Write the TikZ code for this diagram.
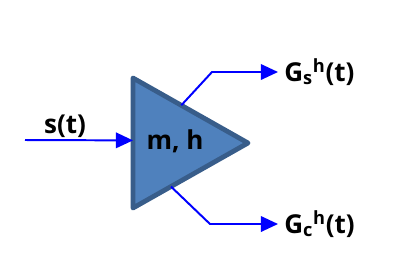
\documentclass[tikz,border=0pt]{standalone}
\usepackage{fontspec}
\setmainfont{Open Sans}
\usetikzlibrary{arrows.meta,calc}
\definecolor{ampfill}{RGB}{79,129,189}
\definecolor{ampdraw}{RGB}{56,93,138}

\begin{document}
\begin{tikzpicture}[
  x=0.025cm, y=-0.025cm,
  font=\bfseries\fontsize{18.5}{22}\selectfont,
  amp/.style={fill=ampfill, draw=ampdraw, line width=1.2mm, line join=round},
  sig/.style={inner xsep=1.5mm, inner ysep=0pt, text=black},
  arrow/.style={-{Triangle[length=4.3mm,width=3.9mm]}, blue, line width=1.4pt}
]
\useasboundingbox (0,0) rectangle (400,279);

% amplifier
\coordinate (tl) at (133,78);
\coordinate (bl) at (133,208);
\coordinate (tip) at (248,143);
\draw[amp] (tl) -- (tip) -- (bl) -- cycle;
\node (gain) at (175,141) {m, h};

\coordinate (in) at (25,140);
\coordinate (inedge) at ($(tl)!0.48!(bl)$);
\coordinate (upedge) at ($(tl)!0.42!(tip)$);
\coordinate (loedge) at ($(bl)!0.33!(tip)$);
\coordinate (upbend) at (212,72);
\coordinate (lobend) at (210,224);

\node[sig] (st) at (65,126) {s(t)};
\node[sig, anchor=west] (gs) at (278,72) {G\textsubscript{s}\textsuperscript{h}(t)};
\node[sig, anchor=west] (gc) at (278,224) {G\textsubscript{c}\textsuperscript{h}(t)};

\draw[arrow] (in) -- (inedge);
\draw[arrow] (upedge) -- (upbend) -- (gs.west);
\draw[arrow] (loedge) -- (lobend) -- (gc.west);

\end{tikzpicture}
\end{document}
